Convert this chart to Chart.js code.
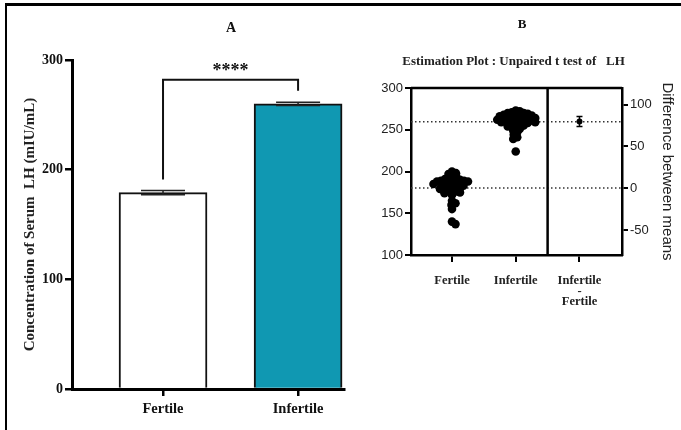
<!DOCTYPE html>
<html>
<head>
<meta charset="utf-8">
<script src="https://cdn.jsdelivr.net/npm/chart.js@4.4.1/dist/chart.umd.min.js"></script>
<style>
  html, body { margin: 0; padding: 0; background: #fff; overflow: hidden; }
  #frame { position: absolute; left: 5px; top: 3px; width: 700px; height: 450px;
           border-top: 3px solid #000; border-left: 2.5px solid #000; }
  #a { position: absolute; left: 0; top: 0; }
  #b { position: absolute; left: 346px; top: 0; }
</style>
</head>
<body>
<div id="frame"></div>
<canvas id="a" width="346" height="430"></canvas>
<canvas id="b" width="335" height="430"></canvas>
<script>
// panel A: bar chart of means
const groups = ['Fertile', 'Infertile'];
const barMeans = [179, 260];
const barSem = [1.9, 1.4];
const barColors = ['#ffffff', '#1098b2'];
const yTicksA = [0, 100, 200, 300];
const bracketY = 282;          // top of significance bracket
const bracketEnds = [191, 272]; // lower ends of the two legs

// panel B: estimation plot
const fertile = [200, 198, 197, 195, 193, 192, 191, 190, 190, 189, 189, 188, 188, 187, 186, 186,
  185, 185, 184, 183, 183, 182, 181, 180, 180, 179, 178, 177, 176, 175, 174, 172, 165, 162, 160,
  155, 140, 137];
const infertile = [273, 272, 271, 270, 270, 269, 268, 268, 267, 267, 266, 266, 265, 265, 264, 264,
  263, 263, 262, 262, 261, 261, 260, 260, 259, 259, 258, 258, 257, 256, 255, 254, 253, 251, 249,
  247, 244, 241, 239, 224];
const xLabelsB = ['Fertile', 'Infertile', ['Infertile', '-', 'Fertile']];
const diffMean = [80];
const diffCI = [[74, 86]];
const yTicksB2 = [-50, 0, 50, 100];

const serif = '"Liberation Serif", "Times New Roman", serif';
const sans = '"Liberation Sans", Arial, sans-serif';
const mean = a => a.reduce((s, v) => s + v, 0) / a.length;

const extrasA = {
  id: 'extrasA',
  afterDatasetsDraw(chart) {
    const { ctx, scales: { x, y } } = chart;
    ctx.save();
    ctx.strokeStyle = '#222';
    ctx.lineWidth = 1.5;
    groups.forEach((g, i) => {
      const px = x.getPixelForValue(i + 1);
      const hi = y.getPixelForValue(barMeans[i] + barSem[i]);
      const lo = y.getPixelForValue(barMeans[i] - barSem[i]);
      ctx.beginPath();
      ctx.moveTo(px, hi); ctx.lineTo(px, lo);
      ctx.moveTo(px - 22, hi); ctx.lineTo(px + 22, hi);
      ctx.moveTo(px - 22, lo); ctx.lineTo(px + 22, lo);
      ctx.stroke();
    });
    const x1 = x.getPixelForValue(1), x2 = x.getPixelForValue(2);
    const top = y.getPixelForValue(bracketY);
    ctx.strokeStyle = '#111';
    ctx.lineWidth = 2;
    ctx.beginPath();
    ctx.moveTo(x1, y.getPixelForValue(bracketEnds[0]));
    ctx.lineTo(x1, top);
    ctx.lineTo(x2, top);
    ctx.lineTo(x2, y.getPixelForValue(bracketEnds[1]));
    ctx.stroke();
    ctx.fillStyle = '#111';
    ctx.textAlign = 'center';
    ctx.textBaseline = 'middle';
    ctx.font = 'bold 18px ' + serif;
    ctx.fillText('****', (x1 + x2) / 2, top - 8);
    ctx.font = 'bold 14px ' + serif;
    ctx.fillText('A', 231, 28);
    ctx.restore();
  }
};

new Chart(document.getElementById('a'), {
  type: 'bar',
  data: {
    datasets: [{
      data: groups.map((g, i) => ({ x: i + 1, y: barMeans[i] })),
      backgroundColor: barColors,
      borderColor: '#111',
      borderWidth: 2,
      barThickness: 88
    }]
  },
  options: {
    responsive: false,
    animation: false,
    layout: { padding: { top: 60, right: 2, left: 0, bottom: 0 } },
    plugins: { legend: { display: false }, tooltip: { enabled: false } },
    scales: {
      x: {
        type: 'linear', min: 0.326, max: 2.34, offset: false,
        afterBuildTicks: s => { s.ticks = groups.map((g, i) => ({ value: i + 1 })); },
        afterFit: s => { s.height = 41; },
        ticks: { callback: v => groups[v - 1], color: '#111', padding: 5, maxRotation: 0,
                 autoSkip: false, font: { family: serif, size: 14.5, weight: 'bold' } },
        grid: { offset: false, drawOnChartArea: false, tickLength: 7, color: '#000', lineWidth: 2.5 },
        border: { color: '#000', width: 3 }
      },
      y: {
        min: 0, max: 300,
        afterBuildTicks: s => { s.ticks = yTicksA.map(v => ({ value: v })); },
        afterFit: s => { s.width = 72; },
        ticks: { color: '#111', padding: 2, font: { family: serif, size: 14, weight: 'bold' } },
        grid: { drawOnChartArea: false, tickLength: 7, color: '#000', lineWidth: 2.5 },
        border: { color: '#000', width: 3 },
        title: { display: true, text: 'Concentration of Serum  LH (mIU/mL)', color: '#222',
                 padding: { top: 21.6, bottom: 0 }, font: { family: serif, size: 15, weight: 'bold' } }
      }
    }
  },
  plugins: [extrasA]
});

const extrasB = {
  id: 'extrasB',
  beforeDatasetsDraw(chart) {
    const { ctx, chartArea: ca, scales: { x, y } } = chart;
    ctx.save();
    ctx.strokeStyle = '#333';
    ctx.lineWidth = 1.5;
    ctx.setLineDash([1.5, 2.5]);
    [mean(fertile), mean(infertile)].forEach(m => {
      const py = y.getPixelForValue(m);
      ctx.beginPath(); ctx.moveTo(ca.left, py); ctx.lineTo(ca.right, py); ctx.stroke();
    });
    ctx.setLineDash([]);
    ctx.strokeStyle = '#000';
    ctx.lineWidth = 2.5;
    const dx = x.getPixelForValue(2.5);
    ctx.beginPath();
    ctx.moveTo(ca.left, ca.top); ctx.lineTo(ca.right, ca.top);
    ctx.moveTo(dx, ca.top); ctx.lineTo(dx, ca.bottom);
    ctx.stroke();
    ctx.restore();
  },
  afterDatasetsDraw(chart) {
    const { ctx, scales: { x, y2 } } = chart;
    ctx.save();
    ctx.strokeStyle = '#000';
    ctx.lineWidth = 1.5;
    diffCI.forEach(([lo, hi], i) => {
      const px = x.getPixelForValue(3 + i);
      const a = y2.getPixelForValue(lo), b = y2.getPixelForValue(hi);
      ctx.beginPath();
      ctx.moveTo(px, a); ctx.lineTo(px, b);
      ctx.moveTo(px - 3, a); ctx.lineTo(px + 3, a);
      ctx.moveTo(px - 3, b); ctx.lineTo(px + 3, b);
      ctx.stroke();
    });
    ctx.fillStyle = '#111';
    ctx.textAlign = 'center';
    ctx.textBaseline = 'middle';
    ctx.font = 'bold 13px ' + serif;
    ctx.fillText('B', 176, 25);
    ctx.restore();
  }
};

const chartB = new Chart(document.getElementById('b'), {
  type: 'scatter',
  data: {
    datasets: [
      { data: fertile.map(v => ({ x: 1, y: v })), yAxisID: 'y' },
      { data: infertile.map(v => ({ x: 2, y: v })), yAxisID: 'y' },
      { data: diffMean.map((v, i) => ({ x: 3 + i, y: v })), yAxisID: 'y2', pointRadius: 3 }
    ]
  },
  options: {
    responsive: false,
    animation: false,
    layout: { padding: 0 },
    elements: { point: { radius: 4.3, backgroundColor: '#000', borderWidth: 0 } },
    plugins: {
      legend: { display: false },
      tooltip: { enabled: false },
      title: { display: true, text: 'Estimation Plot : Unpaired t test of   LH',
               color: '#222', padding: { top: 54.2, bottom: 18.2 },
               font: { family: serif, size: 13, weight: 'bold' } }
    },
    scales: {
      x: {
        type: 'linear', min: 0.357, max: 3.667,
        afterBuildTicks: s => { s.ticks = xLabelsB.map((l, i) => ({ value: i + 1 })); },
        afterFit: s => { s.height = 175; },
        ticks: { callback: v => xLabelsB[v - 1], color: '#222', padding: 14, maxRotation: 0,
                 autoSkip: false, font: { family: serif, size: 12.5, weight: 'bold', lineHeight: '10.5px' } },
        grid: { drawOnChartArea: false, tickLength: 7, color: '#000', lineWidth: 2 },
        border: { color: '#000', width: 2.5 }
      },
      y: {
        position: 'left', min: 100, max: 300,
        afterFit: s => { s.width = 65; },
        ticks: { stepSize: 50, color: '#222', padding: 2, font: { family: sans, size: 13 } },
        grid: { drawOnChartArea: false, tickLength: 6, color: '#000', lineWidth: 2 },
        border: { color: '#000', width: 2.5 }
      },
      y2: {
        position: 'right', min: -80, max: 120,
        afterBuildTicks: s => { s.ticks = yTicksB2.map(v => ({ value: v })); },
        afterFit: s => { s.width = 59; },
        ticks: { color: '#222', padding: 2, font: { family: sans, size: 13 } },
        grid: { drawOnChartArea: false, tickLength: 6, color: '#000', lineWidth: 2 },
        border: { color: '#000', width: 2.5 },
        title: { display: true, text: 'Difference between means', color: '#222',
                 padding: { top: 4.6, bottom: 0 }, font: { family: sans, size: 15 } }
      }
    }
  },
  plugins: [extrasB]
});

// beeswarm spread around each category, worked out in pixels through the chart's scales
const swarmGap = 4;
function swarmPoints(values, center) {
  const xs = chartB.scales.x, ys = chartB.scales.y;
  const cx = xs.getPixelForValue(center);
  const placed = [];
  return values.slice().sort((a, b) => b - a).map(v => {
    const py = ys.getPixelForValue(v);
    let dx = 0;
    for (let k = 0; k < 400; k++) {
      const cand = (k % 2 ? 1 : -1) * Math.ceil(k / 2) * 0.5;
      if (placed.every(p => Math.hypot(p.x - cand, p.y - py) >= swarmGap)) { dx = cand; break; }
    }
    placed.push({ x: dx, y: py });
    return { x: xs.getValueForPixel(cx + dx), y: v };
  });
}
chartB.data.datasets[0].data = swarmPoints(fertile, 1);
chartB.data.datasets[1].data = swarmPoints(infertile, 2);
chartB.update('none');
</script>
</body>
</html>
